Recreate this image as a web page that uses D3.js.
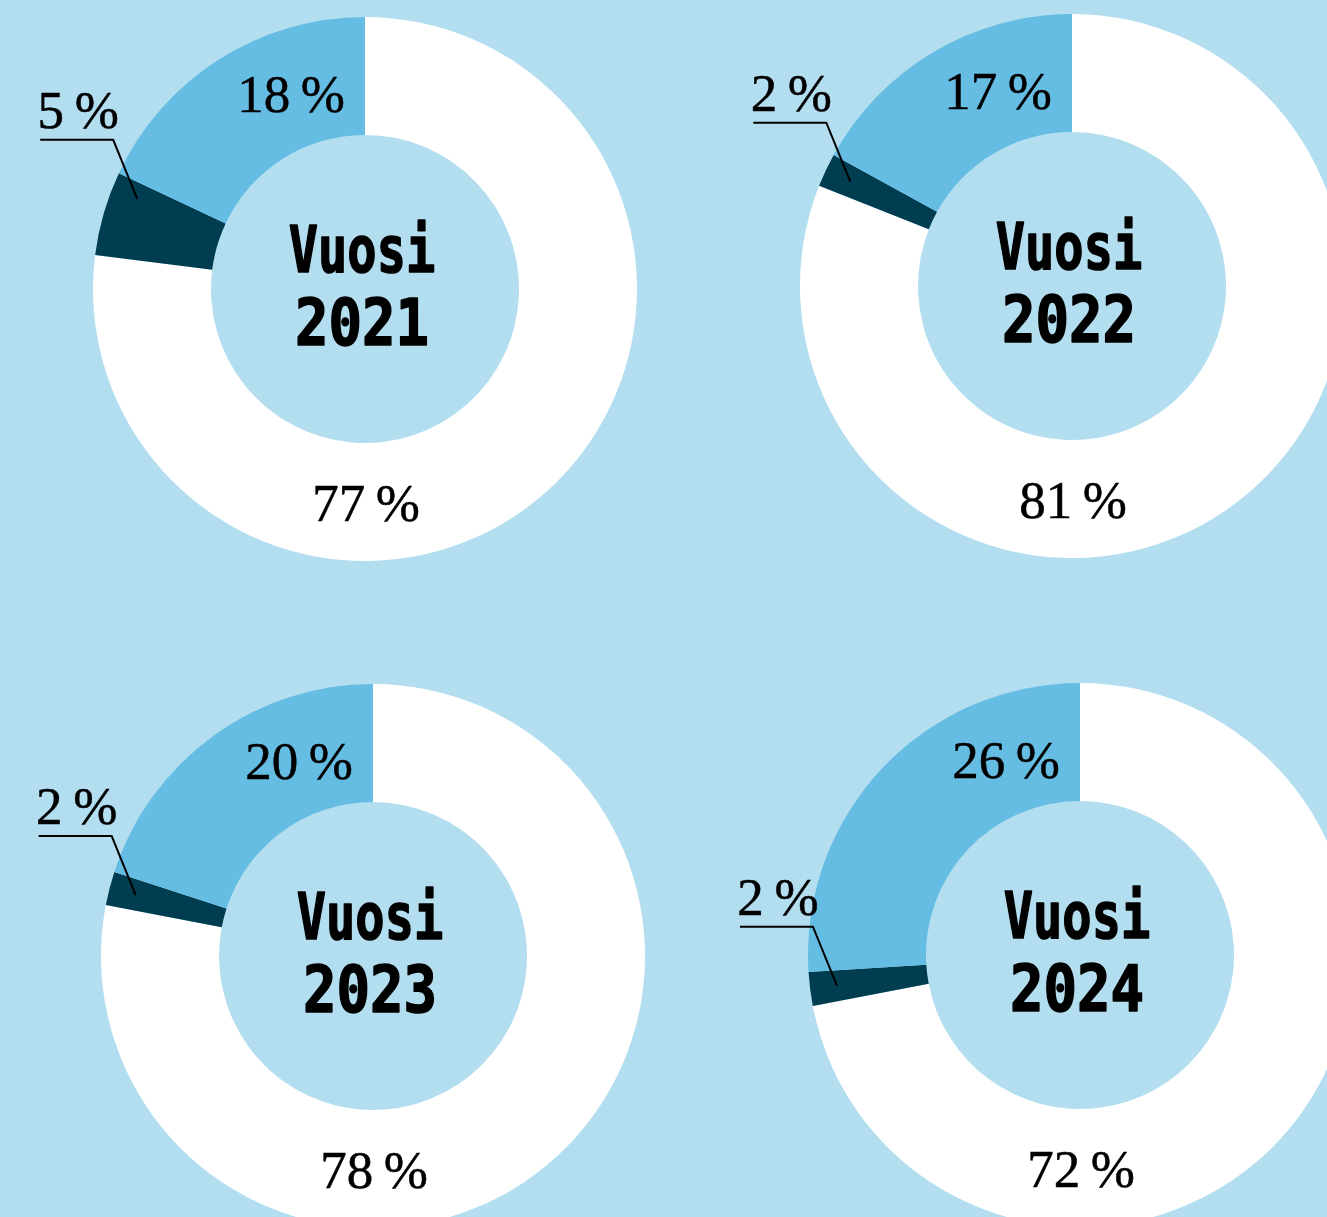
<!DOCTYPE html>
<html>
<head>
<meta charset="utf-8">
<script src="https://cdn.jsdelivr.net/npm/d3@7"></script>
<style>
  html, body { margin: 0; padding: 0; background: #b3def0; }
  svg { display: block; }
</style>
</head>
<body>
<div id="chart"></div>
<script>
// Data
const years = ["2021", "2022", "2023", "2024"];
const categories = ["valkoinen", "tumma", "sininen"];
const whiteShare = [77, 81, 78, 72];
const darkShare = [5, 2, 2, 2];
const blueShare = [18, 17, 20, 26];

const width = 1327;
const height = 1217;
const outerR = 272;
const innerR = 154;

// donut centres, row by row
const centers = [[365, 289], [1072, 286], [373, 956], [1080, 955]];

const colors = { valkoinen: "#ffffff", tumma: "#003d50", sininen: "#66bde3" };
const fmt = v => v + "\u2009%";

const svg = d3.select("#chart")
    .append("svg")
    .attr("width", width)
    .attr("height", height)
    .attr("viewBox", [0, 0, width, height]);

svg.append("rect")
    .attr("width", width)
    .attr("height", height)
    .attr("fill", "#b3def0");

const pie = d3.pie().sort(null).value(d => d.value);
const arc = d3.arc().innerRadius(innerR).outerRadius(outerR);

years.forEach((year, i) => {
  const rows = categories.map((key, k) => ({
    key,
    value: [whiteShare, darkShare, blueShare][k][i]
  }));
  const arcs = pie(rows);
  const [cx, cy] = centers[i];
  const g = svg.append("g").attr("transform", `translate(${cx},${cy})`);

  g.selectAll("path")
    .data(arcs)
    .join("path")
      .attr("d", arc)
      .attr("fill", d => colors[d.data.key]);

  // centre text, squeezed a bit
  [["Vuosi", -17, 0.76], [year, 56, 0.87]].forEach(([txt, y, sx]) => {
    g.append("g").attr("transform", `scale(${sx},1)`)
      .append("text")
        .attr("x", -3 / sx).attr("y", y)
        .attr("text-anchor", "middle")
        .attr("font-family", "DejaVu Sans Mono")
        .attr("font-weight", "bold")
        .attr("font-size", 64)
        .attr("fill", "#000")
        .attr("stroke", "#000")
        .attr("stroke-width", 1.6)
        .attr("stroke-linejoin", "round")
        .text(txt);
  });

  const labelFont = s => s
      .attr("font-family", "Liberation Serif")
      .attr("font-size", 53)
      .attr("fill", "#000")
      .attr("stroke", "#000")
      .attr("stroke-width", 0.5);

  // white share at the bottom
  g.append("text")
      .attr("x", 1).attr("y", 232)
      .attr("text-anchor", "middle")
      .call(labelFont)
      .text(fmt(whiteShare[i]));

  // blue share near the top
  g.append("text")
      .attr("x", -20).attr("y", -177)
      .attr("text-anchor", "end")
      .call(labelFont)
      .text(fmt(blueShare[i]));

  // dark share with leader line
  const dark = arcs[1];
  const a = dark.endAngle - 0.01 * 2 * Math.PI;
  const r = 245;
  const ex = Math.sin(a) * r;
  const ey = -Math.cos(a) * r;
  const kx = ex - 24, ky = ey - 59;
  g.append("path")
      .attr("d", d3.line()([[ex, ey], [kx, ky], [kx - 73, ky]]))
      .attr("fill", "none")
      .attr("stroke", "#000")
      .attr("stroke-width", 2);
  g.append("text")
      .attr("x", kx - 35).attr("y", ky - 12)
      .attr("text-anchor", "middle")
      .call(labelFont)
      .text(fmt(darkShare[i]));
});
</script>
</body>
</html>
